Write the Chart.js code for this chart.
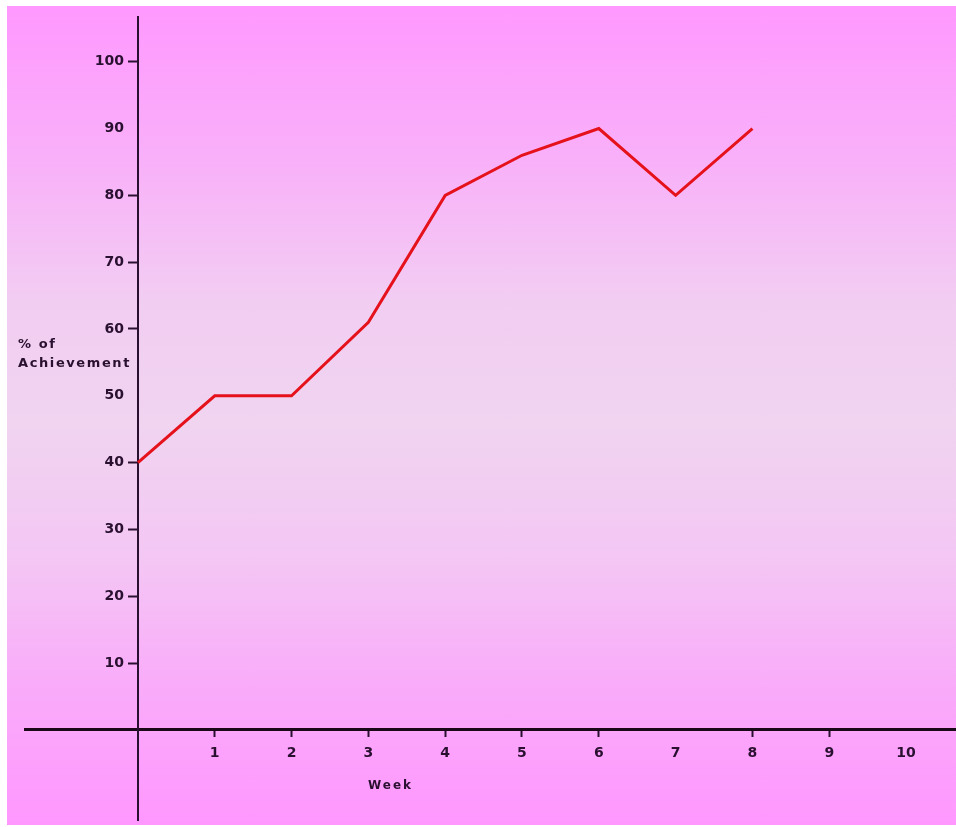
<!DOCTYPE html>
<html>
<head>
<meta charset="utf-8">
<script src="https://cdn.jsdelivr.net/npm/chart.js@4"></script>
<style>
  body { margin: 0; background: #fff; }
  #wrap { position: relative; width: 956px; height: 827px; background: #fff; overflow: hidden; }
  #bg {
    position: absolute; left: 7px; top: 6px; width: 949px; height: 819px;
    background: linear-gradient(to bottom,
      #ff98ff 0%, #f9aff9 18%, #f2cdf2 36%, #f0d4f0 51%,
      #f4c6f4 68%, #f9adf9 82%, #ff97ff 100%);
  }
  #chart { position: absolute; left: 0; top: 0; }
  .lbl { position: absolute; font-family: "DejaVu Sans", sans-serif; font-weight: bold; color: #2a1030; }
  #ytitle { left: 18px; top: 334px; font-size: 13px; line-height: 19px; letter-spacing: 1.6px; }
  #xtitle { left: 368px; top: 778px; font-size: 12px; letter-spacing: 2px; }
</style>
</head>
<body>
<div id="wrap">
  <div id="bg"></div>
  <canvas id="chart" width="956" height="827"></canvas>
  <div class="lbl" id="ytitle">% of<br>Achievement</div>
  <div class="lbl" id="xtitle">Week</div>
</div>
<script>
// weeks and % of achievement
const weeks = [0, 1, 2, 3, 4, 5, 6, 7, 8];
const achievement = [40, 50, 50, 61, 80, 86, 90, 80, 90];

const xTicks = [1, 2, 3, 4, 5, 6, 7, 8, 9, 10];
const yTicks = [10, 20, 30, 40, 50, 60, 70, 80, 90, 100];
// only some ticks got a little dash in the original
const xMarked = [1, 2, 3, 4, 5, 6, 8, 9];
const yMarked = [10, 20, 30, 40, 60, 70, 80, 100];

const inkColor = '#2a1030';
const tickFont = { family: 'DejaVu Sans', size: 14, weight: 'bold' };

// a y axis placed at x=0 puts its labels right on the line, push them left a bit
const yLabelGap = {
  id: 'yLabelGap',
  beforeDraw(chart) {
    chart.scales.y.getLabelItems().forEach(item => {
      if (!item.moved) {
        item.options.translation[0] -= 14;
        item.moved = true;
      }
    });
  }
};

const ctx = document.getElementById('chart');
new Chart(ctx, {
  type: 'line',
  data: {
    datasets: [{
      data: weeks.map((w, i) => ({ x: w, y: achievement[i] })),
      borderColor: '#e5121c',
      borderWidth: 3,
      pointRadius: 0,
      tension: 0,
      fill: false
    }]
  },
  options: {
    responsive: false,
    animation: false,
    layout: { padding: { left: 25, right: 0, top: 17, bottom: 7 } },
    plugins: { legend: { display: false }, tooltip: { enabled: false } },
    scales: {
      x: {
        type: 'linear',
        min: -1.47,
        max: 10.65,
        position: { y: 0 },
        afterFit: s => { s.height = 0; s.paddingLeft = 0; s.paddingRight = 0; },
        afterBuildTicks: s => { s.ticks = xTicks.map(v => ({ value: v })); },
        border: { display: true, color: '#1a0818', width: 3 },
        grid: {
          drawOnChartArea: false,
          drawTicks: true,
          tickLength: 6,
          tickWidth: 2,
          tickColor: c => xMarked.includes(c.tick.value) ? inkColor : 'rgba(0,0,0,0)'
        },
        ticks: { color: inkColor, font: tickFont, padding: 9, maxRotation: 0, autoSkip: false }
      },
      y: {
        type: 'linear',
        min: -13.5,
        max: 106.7,
        position: { x: 0 },
        afterFit: s => { s.width = 0; s.paddingTop = 0; s.paddingBottom = 0; },
        afterBuildTicks: s => { s.ticks = yTicks.map(v => ({ value: v })); },
        border: { display: true, color: inkColor, width: 2 },
        grid: {
          drawOnChartArea: false,
          drawTicks: true,
          tickLength: 9,
          tickWidth: 2,
          tickColor: c => yMarked.includes(c.tick.value) ? inkColor : 'rgba(0,0,0,0)'
        },
        ticks: { color: inkColor, font: tickFont, autoSkip: false }
      }
    }
  },
  plugins: [yLabelGap]
});
</script>
</body>
</html>
